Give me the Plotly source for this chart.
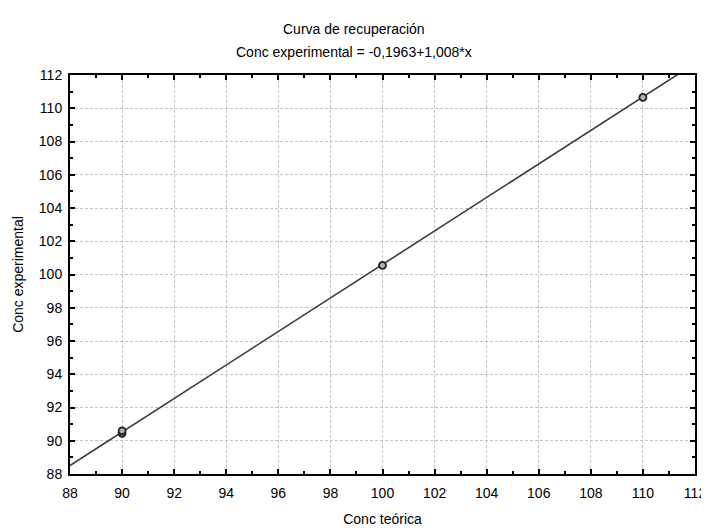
import plotly.graph_objects as go
import numpy as np

title = "Curva de recuperación"
subtitle = "Conc experimental = -0,1963+1,008*x"
x_label = "Conc teórica"
y_label = "Conc experimental"

conc_teorica = [90, 90, 100, 110]
conc_experimental = [90.45, 90.6, 100.55, 110.65]
intercept = -0.1963
slope = 1.008
x_range = [88, 112]
y_range = [88, 112]

line_x = np.array(x_range, dtype=float)
line_y = intercept + slope * line_x

FONT = "Liberation Sans, Arial"
FS = 14

fig = go.Figure()
fig.add_trace(go.Scatter(x=line_x, y=line_y, mode="lines",
                         line=dict(color="#3c3c3c", width=1.6), showlegend=False))
fig.add_trace(go.Scatter(x=conc_teorica, y=conc_experimental, mode="markers",
                         marker=dict(symbol="circle", size=7, color="#b0b0b0",
                                     line=dict(color="#222222", width=1.8)),
                         showlegend=False))

axis_common = dict(
    showline=True, linecolor="black", linewidth=2, mirror="ticks",
    ticks="inside", ticklen=5, tickwidth=1.5, tickcolor="black",
    showgrid=True, gridcolor="#c4c4c4", griddash="3px,2px", gridwidth=1,
    zeroline=False, dtick=2, automargin=False,
    tickfont=dict(family=FONT, size=FS, color="black"),
    minor=dict(ticks="inside", dtick=1, ticklen=3, tickcolor="black", showgrid=False),
)

fig.update_xaxes(range=x_range, **axis_common, ticklabelstandoff=5,
                 title=dict(text=x_label, standoff=14,
                            font=dict(family=FONT, size=FS, color="black")))
fig.update_yaxes(range=y_range, **axis_common, ticklabelstandoff=3,
                 title=dict(text=y_label, standoff=12,
                            font=dict(family=FONT, size=FS, color="black")))

fig.add_annotation(text=title, xref="paper", yref="paper", x=0.455, y=1, yshift=46,
                   showarrow=False, yanchor="middle",
                   font=dict(family=FONT, size=FS, color="black"))
fig.add_annotation(text=subtitle, xref="paper", yref="paper", x=0.455, y=1, yshift=23,
                   showarrow=False, yanchor="middle",
                   font=dict(family=FONT, size=FS, color="black"))

fig.update_layout(width=709, height=530, plot_bgcolor="white", paper_bgcolor="white",
                  margin=dict(l=62, r=22, t=67, b=64), showlegend=False)

fig.write_html("out.html")
